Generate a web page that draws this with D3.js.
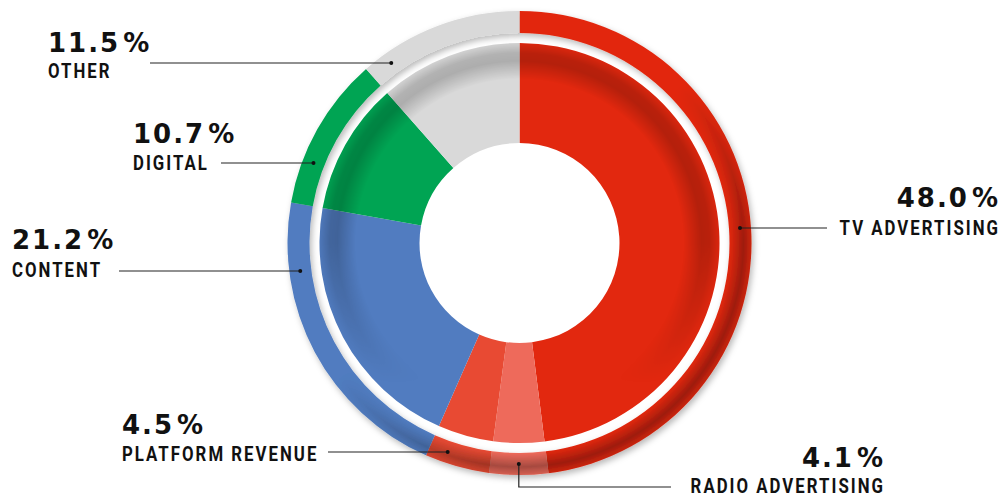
<!DOCTYPE html>
<html>
<head>
<meta charset="utf-8">
<script src="https://cdn.jsdelivr.net/npm/d3@7"></script>
<style>
  body { margin: 0; background: #fff; }
  svg { display: block; }
</style>
</head>
<body>
<div class="revenue_donut"></div>
<script>
// revenue split, clockwise from 12 o'clock
const categories = ["TV ADVERTISING", "RADIO ADVERTISING", "PLATFORM REVENUE", "CONTENT", "DIGITAL", "OTHER"];
const shares = [48.0, 4.1, 4.5, 21.2, 10.7, 11.5];
const shareLabels = ["48.0", "4.1", "4.5", "21.2", "10.7", "11.5"];
const sliceColors = ["#E2280F", "#EE6A5B", "#E84A33", "#517CC0", "#00A453", "#D9D9D9"];

// where each callout sits (x, anchor, baselines, leader line)
const callouts = [
  {x: 1000, anchor: "end",   pctY: 207, nameY: 235, lineY: 228, lineX: 827},
  {x: 885,  anchor: "end",   pctY: 467, nameY: 493, lineY: 487, lineX: 671, elbow: true},
  {x: 122,  anchor: "start", pctY: 434, nameY: 461, lineY: 452, lineX: 328},
  {x: 12,   anchor: "start", pctY: 249, nameY: 277, lineY: 271, lineX: 119},
  {x: 133,  anchor: "start", pctY: 143, nameY: 170, lineY: 163, lineX: 221},
  {x: 48,   anchor: "start", pctY: 52,  nameY: 78,  lineY: 63,  lineX: 150}
];

const width = 1006, height = 497;
const cx = 519.5, cy = 243;
const ringOuter = 232, ringInner = 210, donutOuter = 200, donutInner = 100;
const dotR = 221;
const nameScale = 0.84; // squeeze names into a condensed look

const svg = d3.select(".revenue_donut").append("svg")
  .attr("width", width)
  .attr("height", height);

const defs = svg.append("defs");

// tube-like shading for the outer ring
const ringShade = defs.append("radialGradient")
  .attr("id", "ringShade")
  .attr("gradientUnits", "userSpaceOnUse")
  .attr("cx", 0).attr("cy", 0).attr("r", ringOuter);
[[ringInner / ringOuter, 0], [0.93, 0.12], [0.965, 0.3], [1, 0.1]].forEach(s => {
  ringShade.append("stop").attr("offset", s[0]).attr("stop-color", "#000").attr("stop-opacity", s[1]);
});

// shadow band just inside the donut rim
const innerShade = defs.append("radialGradient")
  .attr("id", "innerShade")
  .attr("gradientUnits", "userSpaceOnUse")
  .attr("cx", 0).attr("cy", 0).attr("r", donutOuter);
[[0.82, 0], [0.91, 0.2], [0.95, 0.18], [1, 0.03]].forEach(s => {
  innerShade.append("stop").attr("offset", s[0]).attr("stop-color", "#000").attr("stop-opacity", s[1]);
});

function makeMask(id, x1, y1, x2, y2, stops) {
  const g = defs.append("linearGradient")
    .attr("id", id + "Grad")
    .attr("gradientUnits", "userSpaceOnUse")
    .attr("x1", x1).attr("y1", y1).attr("x2", x2).attr("y2", y2);
  stops.forEach(s => g.append("stop").attr("offset", s[0]).attr("stop-color", s[1]));
  defs.append("mask")
    .attr("id", id)
    .attr("maskUnits", "userSpaceOnUse")
    .attr("x", -260).attr("y", -260).attr("width", 520).attr("height", 520)
    .append("rect")
    .attr("x", -260).attr("y", -260).attr("width", 520).attr("height", 520)
    .attr("fill", `url(#${id}Grad)`);
}
makeMask("ringMask", -180, -200, 120, 150, [[0, "#000"], [0.55, "#000"], [0.9, "#fff"]]);
makeMask("innerMask", 0, -200, 0, 200, [[0, "#fff"], [0.5, "#fff"], [0.85, "#000"]]);

const drop = defs.append("filter")
  .attr("id", "drop")
  .attr("x", "-10%").attr("y", "-10%").attr("width", "120%").attr("height", "120%");
drop.append("feDropShadow")
  .attr("dx", 2).attr("dy", 3).attr("stdDeviation", 3)
  .attr("flood-color", "#000").attr("flood-opacity", 0.28);

const pie = d3.pie().sort(null).value(d => d);
const slices = pie(shares);

const ringArc = d3.arc().innerRadius(ringInner).outerRadius(ringOuter);
const donutArc = d3.arc().innerRadius(donutInner).outerRadius(donutOuter);

const g = svg.append("g")
  .attr("transform", `translate(${cx}, ${cy})`);

// outer ring
const ring = g.append("g").attr("filter", "url(#drop)");
ring.selectAll("path")
  .data(slices)
  .enter()
  .append("path")
  .attr("d", ringArc)
  .attr("fill", (d, i) => sliceColors[i]);
ring.append("path")
  .attr("d", ringArc({startAngle: 0, endAngle: 2 * Math.PI}))
  .attr("fill", "url(#ringShade)")
  .attr("mask", "url(#ringMask)");

// inner donut
const donut = g.append("g");
donut.selectAll("path")
  .data(slices)
  .enter()
  .append("path")
  .attr("d", donutArc)
  .attr("fill", (d, i) => sliceColors[i]);
donut.append("path")
  .attr("d", donutArc({startAngle: 0, endAngle: 2 * Math.PI}))
  .attr("fill", "url(#innerShade)")
  .attr("mask", "url(#innerMask)");

// leader lines: dot sits where the line meets the middle of the ring
const leaders = svg.append("g");
callouts.forEach((c, i) => {
  const mid = (slices[i].startAngle + slices[i].endAngle) / 2;
  let dx, dy;
  if (c.elbow) {
    dx = dotR * Math.sin(mid);
    dy = -dotR * Math.cos(mid);
  } else {
    dy = c.lineY - cy;
    dx = Math.sqrt(dotR * dotR - dy * dy) * (Math.sin(mid) < 0 ? -1 : 1);
  }
  const px = cx + dx, py = cy + dy;
  const pts = c.elbow
    ? [[px, py], [px, c.lineY], [c.lineX, c.lineY]]
    : [[px, py], [c.lineX, c.lineY]];
  leaders.append("path")
    .attr("d", d3.line()(pts))
    .attr("fill", "none")
    .attr("stroke", "#222")
    .attr("stroke-width", 1.2);
  leaders.append("circle")
    .attr("cx", px).attr("cy", py).attr("r", 2)
    .attr("fill", "#111");
});

// labels
const labels = svg.append("g");
callouts.forEach((c, i) => {
  const pct = labels.append("text")
    .attr("x", c.x)
    .attr("y", c.pctY)
    .attr("text-anchor", c.anchor)
    .attr("font-family", "DejaVu Sans")
    .attr("font-weight", "bold")
    .attr("font-size", "26px")
    .attr("letter-spacing", "2px")
    .attr("fill", "#111")
    .text(shareLabels[i]);
  pct.append("tspan")
    .attr("dx", 3)
    .text("%");

  labels.append("g")
    .attr("transform", `translate(${c.x}, ${c.nameY}) scale(${nameScale}, 1)`)
    .append("text")
    .attr("text-anchor", c.anchor)
    .attr("font-family", "Roboto")
    .attr("font-weight", "bold")
    .attr("font-size", "20px")
    .attr("letter-spacing", "2.4px")
    .attr("fill", "#111")
    .text(categories[i]);
});
</script>
</body>
</html>
